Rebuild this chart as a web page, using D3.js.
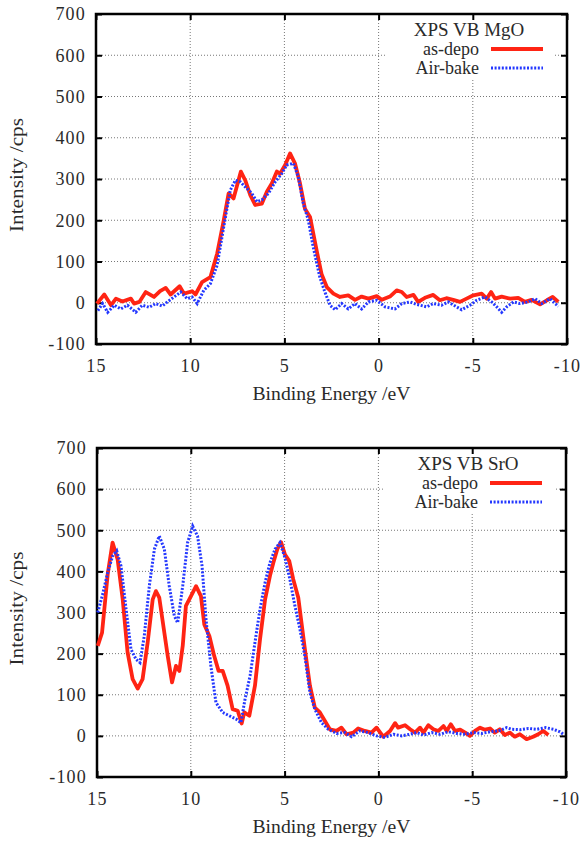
<!DOCTYPE html>
<html>
<head>
<meta charset="utf-8">
<script src="https://cdn.jsdelivr.net/npm/d3@7"></script>
<style>
  body { margin: 0; background: #fff; }
  svg { display: block; }
  text { font-family: "Liberation Serif", "DejaVu Serif", serif; fill: #2a2a2a; }
</style>
</head>
<body>
<svg id="chart" width="582" height="841"></svg>
<script>
// Binding energy (eV), intensity (cps)
const mgoAsDepo = [[14.95,-2],[14.56,20],[14.2,-6],[13.94,10],[13.6,3],[13.15,10],[12.98,-2],[12.7,2],[12.36,26],[11.92,14],[11.6,28],[11.3,36],[11.04,20],[10.56,40],[10.33,22],[9.9,28],[9.72,20],[9.37,50],[8.93,62],[8.57,119],[8.22,200],[7.96,265],[7.7,253],[7.31,318],[7.08,297],[6.81,261],[6.55,237],[6.2,240],[5.93,269],[5.67,289],[5.4,318],[5.23,313],[4.96,334],[4.7,362],[4.44,338],[4.17,289],[3.91,228],[3.64,208],[3.29,127],[3.03,70],[2.75,38],[2.4,22],[2.05,14],[1.61,18],[1.25,7],[0.9,15],[0.54,10],[0.1,16],[-0.17,7],[-0.6,15],[-0.96,30],[-1.23,26],[-1.49,14],[-1.85,19],[-2.1,2],[-2.46,12],[-2.9,19],[-3.25,6],[-3.6,11],[-3.96,7],[-4.32,2],[-4.67,10],[-5.03,18],[-5.47,22],[-5.74,10],[-5.97,26],[-6.18,10],[-6.53,15],[-6.98,10],[-7.41,12],[-7.77,2],[-8.12,7],[-8.57,-4],[-8.93,6],[-9.24,14],[-9.54,2]];
const mgoAirBake = [[14.9,-19],[14.65,-2],[14.38,-23],[14.03,-6],[13.68,-15],[13.33,-6],[12.89,-23],[12.54,-6],[12.18,-11],[11.83,-2],[11.48,-8],[11.21,2],[10.86,14],[10.5,26],[10.16,10],[9.9,14],[9.63,-2],[9.28,30],[8.93,46],[8.57,91],[8.31,160],[8.05,228],[7.87,273],[7.6,297],[7.34,293],[7.08,281],[6.73,265],[6.46,245],[6.2,249],[5.85,265],[5.49,293],[5.14,313],[4.88,334],[4.52,338],[4.26,305],[4.0,241],[3.73,200],[3.47,135],[3.12,62],[2.85,26],[2.58,-6],[2.31,-17],[1.96,-2],[1.61,-15],[1.25,-2],[0.9,-15],[0.54,2],[0.1,6],[-0.34,-10],[-0.87,-15],[-1.23,-2],[-1.67,2],[-2.02,-4],[-2.55,-10],[-2.9,-2],[-3.34,-6],[-3.7,2],[-4.14,-10],[-4.41,-17],[-4.85,-6],[-5.2,6],[-5.65,14],[-6.0,2],[-6.27,-10],[-6.53,-23],[-6.8,-10],[-7.16,2],[-7.5,-2],[-7.95,2],[-8.3,10],[-8.66,-2],[-9.1,10],[-9.54,-9]];
const sroAsDepo = [[14.96,219],[14.73,251],[14.43,393],[14.17,470],[13.9,429],[13.63,332],[13.37,203],[13.1,138],[12.83,115],[12.57,138],[12.3,227],[12.03,332],[11.86,352],[11.68,336],[11.41,251],[11.23,194],[11.0,130],[10.79,170],[10.61,158],[10.43,219],[10.26,316],[9.99,340],[9.72,364],[9.46,340],[9.28,271],[9.01,243],[8.75,194],[8.52,158],[8.3,158],[8.04,122],[7.77,65],[7.5,61],[7.29,30],[7.15,57],[6.88,49],[6.58,122],[6.31,235],[6.04,332],[5.78,389],[5.6,421],[5.39,454],[5.19,471],[4.98,441],[4.75,425],[4.54,381],[4.27,336],[4.1,275],[3.92,211],[3.65,122],[3.39,69],[3.12,57],[2.85,36],[2.59,16],[2.23,12],[1.97,20],[1.7,4],[1.34,8],[1.08,18],[0.72,12],[0.37,8],[0.1,20],[-0.26,-2],[-0.62,12],[-0.89,31],[-1.05,20],[-1.42,26],[-1.69,16],[-1.95,8],[-2.22,20],[-2.4,8],[-2.66,26],[-2.93,16],[-3.2,12],[-3.47,24],[-3.64,12],[-3.86,28],[-4.09,12],[-4.36,15],[-4.63,8],[-4.88,0],[-5.15,12],[-5.42,20],[-5.68,15],[-5.95,18],[-6.2,8],[-6.47,16],[-6.74,2],[-7.0,8],[-7.27,-2],[-7.54,4],[-7.9,-8],[-8.25,-2],[-8.52,4],[-8.79,12],[-9.06,2]];
const sroAirBake = [[14.96,300],[14.7,344],[14.43,397],[14.17,437],[13.95,450],[13.72,413],[13.45,308],[13.19,211],[12.92,186],[12.71,178],[12.48,243],[12.21,365],[11.94,454],[11.68,486],[11.41,454],[11.15,365],[10.88,292],[10.7,275],[10.43,365],[10.17,470],[9.9,510],[9.64,486],[9.4,413],[9.19,284],[8.93,170],[8.66,81],[8.3,57],[7.95,49],[7.59,41],[7.33,32],[7.11,89],[6.84,146],[6.58,227],[6.31,308],[6.04,373],[5.78,421],[5.51,454],[5.25,470],[4.98,433],[4.72,381],[4.45,316],[4.18,259],[3.92,194],[3.65,105],[3.39,65],[3.03,32],[2.67,16],[2.23,6],[1.79,8],[1.43,-2],[0.99,12],[0.55,8],[0.1,0],[-0.35,-4],[-0.8,4],[-1.24,0],[-1.69,4],[-2.04,8],[-2.4,2],[-2.84,8],[-3.29,4],[-3.73,10],[-4.18,6],[-4.63,4],[-5.07,8],[-5.51,6],[-5.95,10],[-6.4,12],[-6.84,20],[-7.11,16],[-7.55,15],[-8.0,18],[-8.45,16],[-8.9,20],[-9.34,16],[-9.68,10],[-9.86,4]];

const xTicks = [15, 10, 5, 0, -5, -10];
const yTicks = [-100, 0, 100, 200, 300, 400, 500, 600, 700];
const seriesNames = ["as-depo", "Air-bake"];
const panelTitles = ["XPS VB MgO", "XPS VB SrO"];

const redColor = "#ff2414";
const blueColor = "#2438ff";
const serif = "'Liberation Serif', 'DejaVu Serif', serif";

const svg = d3.select("#chart");

const panels = [
    { top: 14, bottom: 344, left: 96, right: 567, title: panelTitles[0], data: [mgoAsDepo, mgoAirBake] },
    { top: 448, bottom: 777, left: 97, right: 566, title: panelTitles[1], data: [sroAsDepo, sroAirBake] }
];

// plain hyphen-minus like the original plot
const plainFormat = d => String(d);

panels.forEach(p => {
    const x = d3.scaleLinear().domain([15, -10]).range([p.left, p.right]);
    const y = d3.scaleLinear().domain([-100, 700]).range([p.bottom, p.top]);
    const g = svg.append("g");

    // dotted grid
    g.selectAll(".vgrid").data(xTicks).enter().append("line")
        .attr("x1", d => x(d)).attr("x2", d => x(d))
        .attr("y1", p.top).attr("y2", p.bottom)
        .attr("stroke", "#777").attr("stroke-width", 1).attr("stroke-dasharray", "1,2");
    g.selectAll(".hgrid").data(yTicks).enter().append("line")
        .attr("x1", p.left).attr("x2", p.right)
        .attr("y1", d => y(d)).attr("y2", d => y(d))
        .attr("stroke", "#777").attr("stroke-width", 1).attr("stroke-dasharray", "1,2");

    // legend background blanks the grid
    g.append("rect")
        .attr("x", p.right - 181).attr("y", p.top + 2)
        .attr("width", 169).attr("height", 64)
        .attr("fill", "#fff");

    // axes with inward ticks
    const bottomAxis = g.append("g")
        .attr("transform", `translate(0,${p.bottom})`)
        .call(d3.axisBottom(x).tickValues(xTicks).tickFormat(plainFormat)
            .tickSizeInner(-6).tickSizeOuter(0).tickPadding(15));
    const leftAxis = g.append("g")
        .attr("transform", `translate(${p.left},0)`)
        .call(d3.axisLeft(y).tickValues(yTicks).tickFormat(plainFormat)
            .tickSizeInner(-6).tickSizeOuter(0).tickPadding(10));
    g.append("g")
        .attr("transform", `translate(0,${p.top})`)
        .call(d3.axisTop(x).tickValues(xTicks).tickSizeInner(-6).tickSizeOuter(0).tickFormat(""));
    g.append("g")
        .attr("transform", `translate(${p.right},0)`)
        .call(d3.axisRight(y).tickValues(yTicks).tickSizeInner(-6).tickSizeOuter(0).tickFormat(""));

    g.selectAll(".domain").remove();
    g.selectAll(".tick line").attr("stroke", "#000").attr("stroke-width", 2);
    [bottomAxis, leftAxis].forEach(a => a.selectAll("text")
        .style("font-family", serif)
        .style("font-size", "18px")
        .style("letter-spacing", "1.2px")
        .style("fill", "#2a2a2a"));

    // frame
    g.append("rect")
        .attr("x", p.left).attr("y", p.top)
        .attr("width", p.right - p.left).attr("height", p.bottom - p.top)
        .attr("fill", "none").attr("stroke", "#000").attr("stroke-width", 2.5);

    // curves
    const line = d3.line().x(d => x(d[0])).y(d => y(d[1]));
    g.append("path").datum(p.data[0])
        .attr("d", line)
        .attr("fill", "none").attr("stroke", redColor)
        .attr("stroke-width", 3.8).attr("stroke-linejoin", "round");
    g.append("path").datum(p.data[1])
        .attr("d", line)
        .attr("fill", "none").attr("stroke", blueColor)
        .attr("stroke-width", 3).attr("stroke-dasharray", "2,1.6");

    // legend
    g.append("text")
        .attr("x", p.right - 98).attr("y", p.top + 22)
        .attr("text-anchor", "middle")
        .style("font-size", "19px")
        .text(p.title);
    seriesNames.forEach((name, i) => {
        const ly = p.top + 35 + i * 19;
        g.append("text")
            .attr("x", p.right - 88).attr("y", ly + 6)
            .attr("text-anchor", "end")
            .style("font-size", "18px")
            .text(name);
        g.append("line")
            .attr("x1", p.right - 76).attr("x2", p.right - 24)
            .attr("y1", ly).attr("y2", ly)
            .attr("stroke", i === 0 ? redColor : blueColor)
            .attr("stroke-width", i === 0 ? 3.8 : 3)
            .attr("stroke-dasharray", i === 0 ? null : "2,1.6");
    });

    // axis titles
    g.append("text")
        .attr("x", (p.left + p.right) / 2).attr("y", p.bottom + 56)
        .attr("text-anchor", "middle")
        .attr("textLength", 158).attr("lengthAdjust", "spacingAndGlyphs")
        .style("font-size", "18px")
        .text("Binding Energy /eV");
    g.append("text")
        .attr("transform", `translate(23,${(p.top + p.bottom) / 2 - 4}) rotate(-90)`)
        .attr("text-anchor", "middle")
        .attr("textLength", 114).attr("lengthAdjust", "spacingAndGlyphs")
        .style("font-size", "18px")
        .text("Intensity /cps");
});
</script>
</body>
</html>
